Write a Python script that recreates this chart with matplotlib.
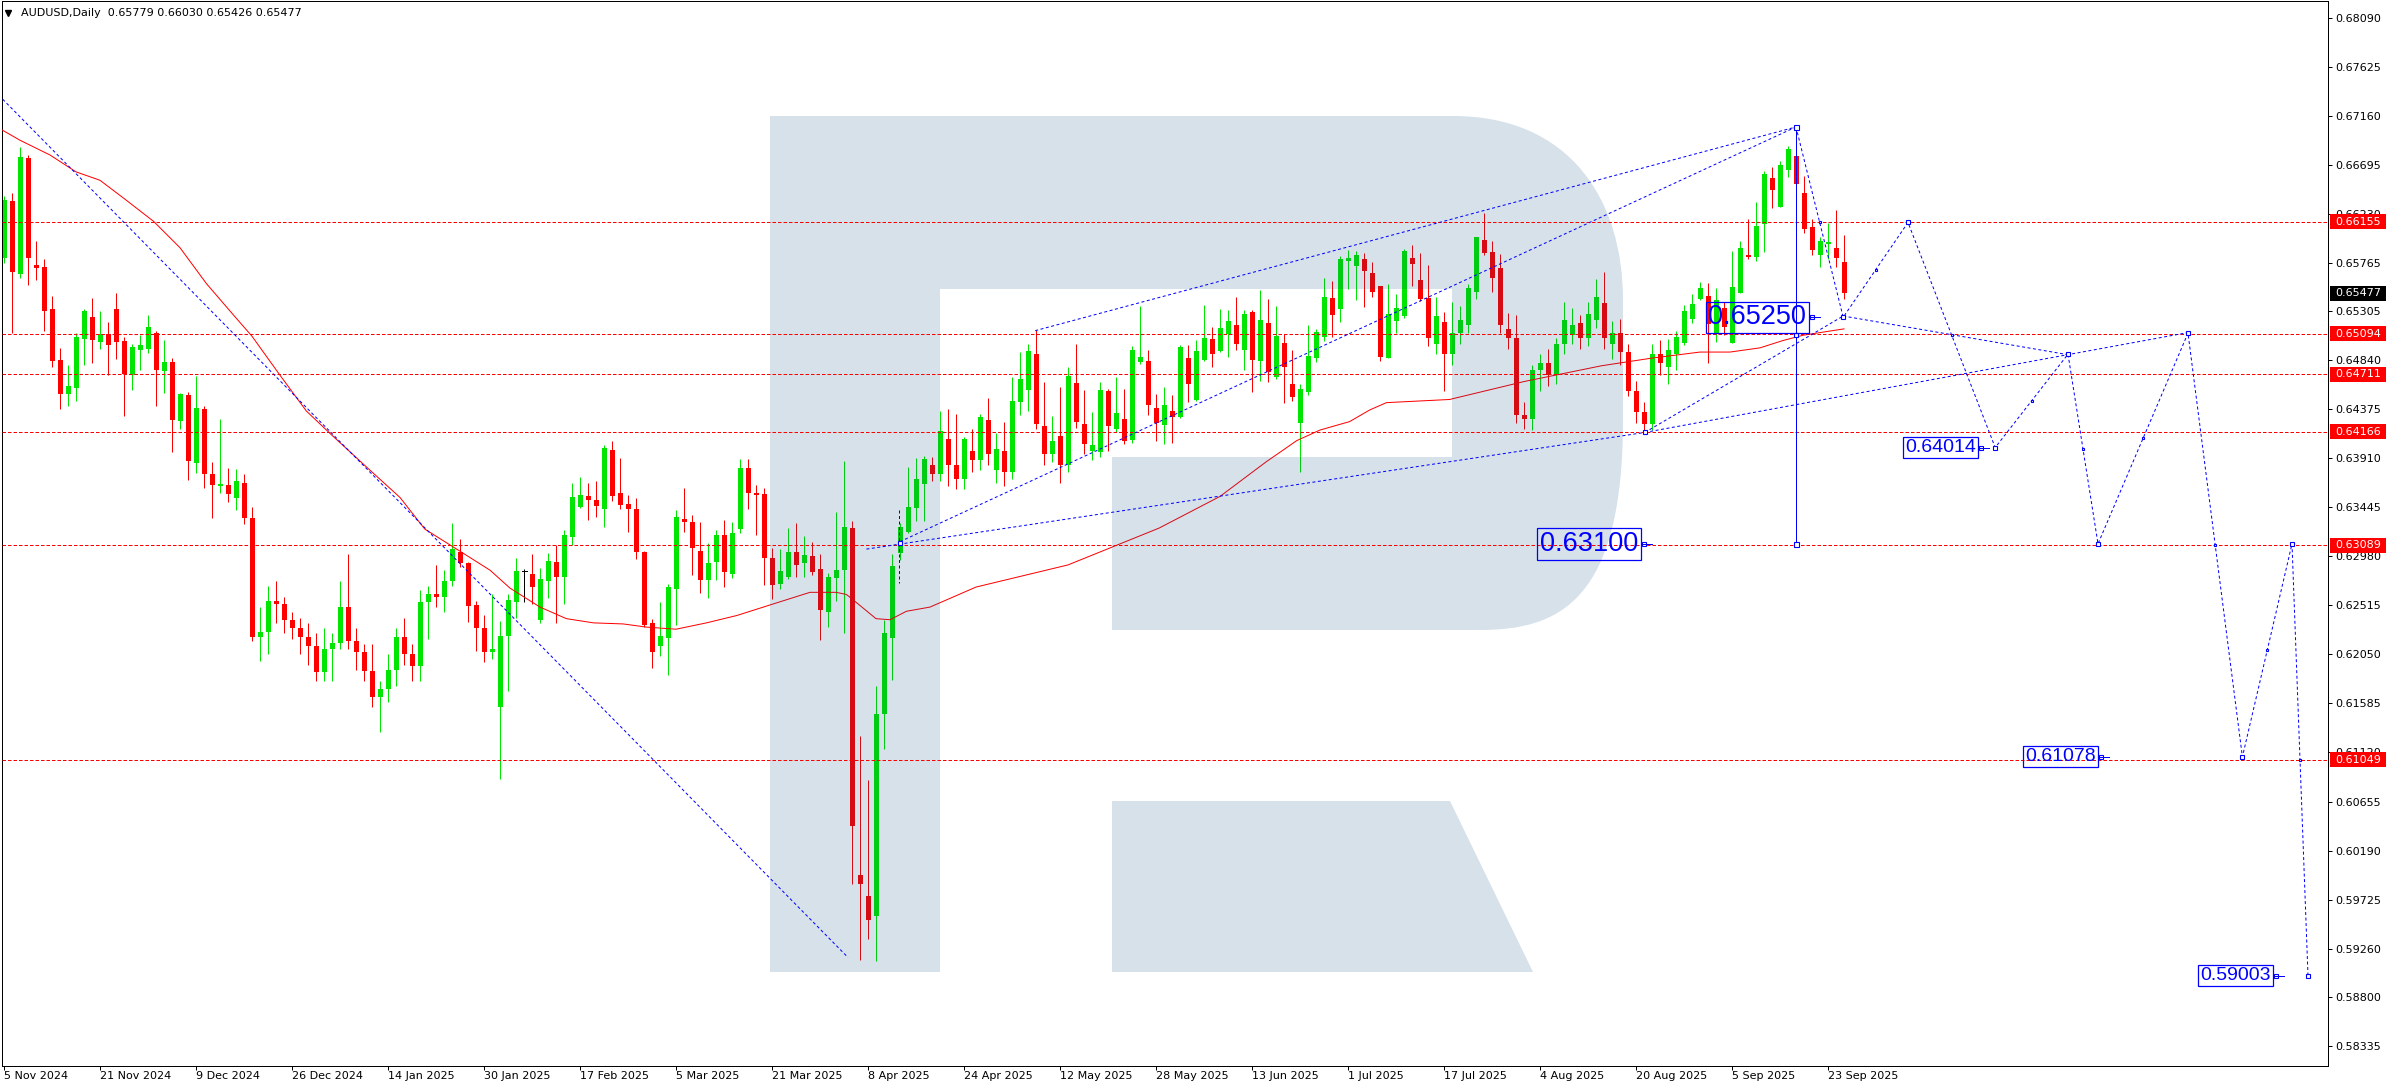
import numpy as np
import pandas as pd
import matplotlib
matplotlib.use("Agg")
import matplotlib.pyplot as plt
from matplotlib.patches import Rectangle, PathPatch
from matplotlib.path import Path
from matplotlib.lines import Line2D
import matplotlib.transforms as mtransforms

plt.rcParams['lines.scale_dashes'] = False
plt.rcParams['font.family'] = ['DejaVu Sans']

# ---------------- data ----------------
header_text = "AUDUSD,Daily  0.65779 0.66030 0.65426 0.65477"
holidays = ['2024-12-25', '2025-01-01']
dates = pd.bdate_range('2024-11-05', '2025-09-25', freq='C', holidays=holidays)

opens = [
    .65810, .66354, .65664, .66759, .65747, .65728, .65329, .64845, .64526, .64583,
    .65048, .65253, .65019, .65089, .65329, .65025, .64703, .64940, .64950, .65101,
    .64741, .64826, .64266, .64513, .63868, .64380, .63763, .63650, .63659, .63536,
    .63678, .63346, .62220, .62260, .62560, .62530, .62380, .62300, .62220, .62130,
    .61880, .62100, .62160, .62500, .62180, .62070, .61890, .61650, .61720, .61900,
    .62220, .62050, .61940, .62550, .62620, .62600, .62750, .63025, .62914, .62516,
    .62297, .62070, .61549, .62229, .62544, .62846, .62814, .62377, .62751, .62926,
    .62782, .63164, .63447, .63550, .63514, .63431, .63988, .63582, .63479, .63431,
    .63025, .62345, .62134, .62209, .62675, .63335, .63308, .63033, .62758, .62926,
    .63184, .62818, .63244, .63817, .63582, .63570, .62961, .62715, .62782, .63025,
    .62914, .62985, .62862, .62456, .62774, .62854, .63252, .59961, .59762, .59571,
    .61481, .62209, .63009, .63212, .63439, .63670, .63850, .63760, .64095, .63850,
    .63720, .63980, .63900, .64275, .63800, .63980, .63780, .64449, .64563, .64902,
    .64218, .63950, .64123, .63850, .64626, .64237, .63980, .63970, .64550, .64190,
    .64285, .64086, .64826, .64835, .64389, .64228, .64361, .64304, .64864, .64465,
    .64845, .65044, .64930, .65091, .65177, .64940, .65300, .64835, .65196, .64683,
    .65006, .64617, .64247, .64541, .64864, .65063, .65433, .65329, .65787, .65737,
    .65803, .65670, .65547, .64864, .65218, .65266, .65813, .65604, .65433, .65000,
    .65206, .64900, .65100, .65177, .65490, .65984, .65870, .65718, .65139, .65050,
    .64320, .64280, .64750, .64820, .64700, .65000, .65080, .65196, .65050, .65225,
    .65386, .65000, .65100, .64920, .64550, .64350, .64240, .64900, .64780, .64900,
    .65009, .65234, .65424, .65452, .65098, .65335, .65009, .65484, .65841, .65825,
    .66135, .66572, .66300, .66648, .66781, .66430, .66110, .65841, .65946, .65908,
    .65779]
highs = [
    .66401, .66427, .66863, .66787, .65974, .65804, .65452, .64959, .64798, .65098,
    .65329, .65433, .65310, .65206, .65481, .65067, .64997, .65082, .65269, .65120,
    .65035, .64864, .64535, .64542, .64697, .64409, .63877, .64285, .63820, .63811,
    .63763, .63450, .62500, .62700, .62750, .62600, .62450, .62400, .62350, .62250,
    .62300, .62250, .62750, .63000, .62300, .62150, .62150, .61800, .62050, .62300,
    .62400, .62150, .62660, .62700, .62900, .62850, .63300, .63150, .62930, .62556,
    .62428, .62623, .62369, .62623, .62961, .62866, .63001, .62874, .63009, .63085,
    .63232, .63678, .63737, .63678, .63694, .64036, .64076, .63912, .63562, .63534,
    .63030, .62385, .62544, .62715, .63419, .63630, .63375, .63308, .63105, .63232,
    .63323, .63308, .63904, .63904, .63658, .63630, .63065, .63053, .63252, .63300,
    .63172, .63113, .63005, .62826, .63403, .63885, .63320, .61274, .60856, .61752,
    .62377, .63005, .63300, .63829, .63912, .63932, .63920, .64361, .64380, .64332,
    .64114, .64190, .64332, .64484, .64152, .64256, .64683, .64921, .64996, .65129,
    .64636, .64313, .64588, .64778, .64996, .64560, .64351, .64636, .64570, .64683,
    .64570, .64977, .65357, .64940, .64522, .64588, .64513, .64987, .64987, .65034,
    .65367, .65158, .65329, .65319, .65442, .65319, .65319, .65509, .65423, .65357,
    .65091, .64940, .64617, .65177, .65139, .65623, .65594, .65831, .65888, .65879,
    .65860, .65775, .65550, .65566, .65471, .65898, .65936, .65861, .65747, .65443,
    .65301, .65395, .65358, .65566, .66015, .66240, .65974, .65851, .65291, .65272,
    .64450, .64800, .64900, .64950, .65050, .65395, .65339, .65272, .65395, .65614,
    .65680, .65215, .65234, .65000, .64650, .64450, .65000, .65035, .65041, .65120,
    .65367, .65471, .65588, .65579, .65525, .65398, .65879, .65974, .66183, .66341,
    .66641, .66673, .66733, .66875, .67056, .66588, .66183, .66015, .66148, .66268,
    .66030]
lows = [
    .65769, .65098, .65623, .65557, .65604, .65120, .64782, .64380, .64409, .64456,
    .64798, .64817, .64950, .64700, .64855, .64314, .64561, .64750, .64912, .64409,
    .64532, .63972, .64190, .63707, .63773, .63631, .63346, .63583, .63498, .63422,
    .63289, .62180, .61990, .62050, .62350, .62250, .62200, .62050, .61950, .61800,
    .61800, .61800, .62100, .62100, .61900, .61800, .61550, .61310, .61600, .61750,
    .61950, .61800, .61800, .62200, .62500, .62450, .62700, .62880, .62357, .62086,
    .61979, .62007, .60872, .61708, .62396, .62544, .62528, .62350, .62587, .62345,
    .62528, .63085, .63439, .63327, .63355, .63264, .63511, .63431, .63212, .62953,
    .62309, .61919, .62034, .61859, .62329, .63212, .62806, .62635, .62583, .62754,
    .62687, .62774, .63204, .63431, .63184, .62707, .62575, .62667, .62770, .62782,
    .62782, .62806, .62185, .62309, .62556, .62253, .59870, .59150, .59350, .59140,
    .61155, .61808, .62950, .63200, .63320, .63320, .63700, .63700, .63650, .63620,
    .63620, .63780, .63800, .63850, .63680, .63650, .63720, .64326, .64364, .64190,
    .63850, .63880, .63680, .63780, .64199, .63950, .63900, .63920, .63980, .64161,
    .64048, .64057, .64807, .64323, .64076, .64048, .64057, .64294, .64446, .64460,
    .64835, .64778, .64920, .64873, .64940, .64750, .64541, .64645, .64636, .64664,
    .64437, .64456, .63780, .64513, .64826, .65025, .65063, .65205, .65518, .65414,
    .65348, .65442, .64835, .64860, .65100, .65247, .65547, .65405, .64980, .64900,
    .64550, .64800, .65000, .65100, .65424, .65842, .65490, .65100, .64950, .64250,
    .64190, .64180, .64550, .64600, .64620, .64900, .65000, .64950, .64980, .65150,
    .64950, .64850, .64800, .64500, .64250, .64140, .64180, .64700, .64620, .64750,
    .64987, .65199, .65414, .64813, .65013, .65082, .65009, .65484, .65803, .65784,
    .65873, .66290, .66300, .66585, .66505, .66053, .65841, .65731, .65800, .65731,
    .65426]
closes = [
    .66363, .65683, .66768, .65816, .65721, .65313, .64839, .64526, .64599, .65063,
    .65310, .65038, .65089, .64988, .65016, .64715, .64969, .64988, .65158, .64750,
    .64826, .64276, .64526, .63887, .64390, .63763, .63659, .63669, .63574, .63697,
    .63346, .62220, .62260, .62560, .62530, .62380, .62300, .62220, .62130, .61880,
    .62100, .62160, .62500, .62180, .62070, .61890, .61650, .61720, .61900, .62220,
    .62050, .61940, .62550, .62620, .62600, .62750, .63050, .62914, .62508, .62297,
    .62078, .62098, .62229, .62567, .62846, .62846, .62695, .62767, .62938, .62782,
    .63184, .63542, .63562, .63518, .63455, .64008, .63558, .63471, .63431, .63025,
    .62329, .62078, .62221, .62695, .63355, .63312, .63065, .62758, .62922, .63184,
    .62830, .63204, .63817, .63582, .63562, .62969, .62707, .62846, .63025, .62902,
    .62993, .62834, .62468, .62786, .62854, .63260, .60427, .59870, .59532, .61489,
    .62257, .62890, .63256, .63451, .63713, .63904, .63760, .64171, .63850, .63720,
    .64095, .63900, .64304, .63950, .64000, .63780, .64456, .64664, .64930, .64237,
    .63950, .64076, .63850, .64693, .64256, .64048, .64038, .64560, .64218, .64342,
    .64076, .64940, .64873, .64418, .64247, .64418, .64304, .64968, .64617, .64930,
    .65053, .64902, .65148, .65215, .64996, .65281, .64845, .65224, .64731, .65072,
    .64778, .64494, .64570, .64883, .65110, .65442, .65272, .65803, .65813, .65841,
    .65689, .65490, .64873, .65281, .65335, .65879, .65759, .65424, .65050, .65263,
    .64900, .65100, .65225, .65528, .66012, .65861, .65623, .65177, .65050, .64320,
    .64280, .64750, .64820, .64700, .65000, .65225, .65177, .65050, .65282, .65443,
    .65050, .65100, .64920, .64550, .64350, .64240, .64902, .64813, .64940, .65060,
    .65310, .65376, .65525, .65186, .65414, .65161, .65536, .65904, .65825, .66116,
    .66610, .66458, .66695, .66844, .66512, .66088, .65889, .65974, .65968, .65813,
    .65477]

# moving average (read at bar positions)
ma_idx = [-0.3, 2, 5.75, 9, 12, 15.3, 18.7, 22, 25.3, 28.7, 31, 34.5, 37.8, 41, 45.3,
          49.5, 52.6, 57, 60.75, 63.25, 67, 70.3, 73.7, 77.4, 80.3, 84, 87.8, 91.6,
          95.75, 100.75, 104, 105.3, 106.6, 109, 110.75, 112.8, 115.75, 121.5, 133,
          144.4, 152, 157.8, 161.6, 164.5, 168.2, 170.7, 172.8, 180.7, 190, 199.7,
          205.75, 212, 215.75, 219.5, 222.4, 224.9, 230]
ma_val = [0.6703, 0.6693, 0.6679, 0.6663, 0.6655, 0.6636, 0.6616, 0.6591, 0.6557,
          0.6527, 0.6507, 0.6470, 0.6436, 0.6413, 0.6383, 0.6354, 0.6324, 0.6303,
          0.6285, 0.6268, 0.6250, 0.6239, 0.6235, 0.6234, 0.6231, 0.6229, 0.6235,
          0.6242, 0.6252, 0.6264, 0.6264, 0.6262, 0.6254, 0.6239, 0.6238, 0.6246,
          0.6250, 0.6269, 0.6290, 0.6325, 0.6355, 0.6388, 0.6408, 0.6418, 0.6426,
          0.6437, 0.6444, 0.6447, 0.6464, 0.6479, 0.6486, 0.6492, 0.6492, 0.6496,
          0.6503, 0.6508, 0.6514]

levels = [0.66155, 0.65094, 0.64711, 0.64166, 0.63089, 0.61049]
last_price = 0.65477

ytick_vals = [0.68090, 0.67625, 0.67160, 0.66695, 0.66230, 0.65765, 0.65305, 0.64840,
              0.64375, 0.63910, 0.63445, 0.62980, 0.62515, 0.62050, 0.61585, 0.61120,
              0.60655, 0.60190, 0.59725, 0.59260, 0.58800, 0.58335]
xtick_dates = ['2024-11-05', '2024-11-21', '2024-12-09', '2024-12-26', '2025-01-14',
               '2025-01-30', '2025-02-17', '2025-03-05', '2025-03-21', '2025-04-08',
               '2025-04-24', '2025-05-12', '2025-05-28', '2025-06-13', '2025-07-01',
               '2025-07-17', '2025-08-04', '2025-08-20', '2025-09-05', '2025-09-23']
xtick_labels = ['5 Nov 2024', '21 Nov 2024', '9 Dec 2024', '26 Dec 2024', '14 Jan 2025',
                '30 Jan 2025', '17 Feb 2025', '5 Mar 2025', '21 Mar 2025', '8 Apr 2025',
                '24 Apr 2025', '12 May 2025', '28 May 2025', '13 Jun 2025', '1 Jul 2025',
                '17 Jul 2025', '4 Aug 2025', '20 Aug 2025', '5 Sep 2025', '23 Sep 2025']

# analysis drawings: (bar index, price)
trend_down = [(-0.16, 0.67319), (105.5, 0.59175)]
line_a = [(112.0, 0.63121), (224.0, 0.67056)]
line_b = [(128.9, 0.65123), (224.0, 0.67056)]
line_c = [(107.8, 0.63050), (205.1, 0.64157)]
line_d = [(205.1, 0.64157), (229.9, 0.65262)]
line_e = [(205.1, 0.64157), (273.0, 0.65105)]
line_f = [(229.9, 0.65262), (258.0, 0.64895)]
vline_target = (224.0, 0.63100, 0.67056)
forecast_x = [224.0, 229.9, 238.0, 248.9, 258.0, 261.75, 273.0, 279.8, 286.0, 288.0]
forecast_y = [0.67056, 0.65250, 0.66150, 0.64014, 0.64900, 0.63100, 0.65100, 0.61078,
              0.63100, 0.59003]
price_labels = [("0.65250", 225.6, 0.65250, 19.5), ("0.63100", 204.6, 0.63100, 19.5),
                ("0.64014", 246.75, 0.64014, 14), ("0.61078", 261.75, 0.61078, 14),
                ("0.59003", 283.6, 0.59003, 14)]

n = len(opens)
assert len(highs) == n and len(lows) == n and len(closes) == n and len(dates) == n

# ---------------- figure ----------------
W, H = 2392, 1090
AX_L, AX_R, AX_T, AX_B = 2, 2328, 1, 1066
PX_PER_BAR = 8.0
PX_PER_UNIT = 10538.0
fig = plt.figure(figsize=(W / 100, H / 100), dpi=100)
fig.patch.set_facecolor('white')
ax = fig.add_axes([AX_L / W, 1 - AX_B / H, (AX_R - AX_L) / W, (AX_B - AX_T) / H])
ax.set_facecolor('white')
ax.set_xlim(-0.25, 290.5)
ax.set_ylim(0.68090 - (AX_B - 18) / PX_PER_UNIT, 0.68090 + (18 - AX_T) / PX_PER_UNIT)

BULL = '#00E600'
BEAR = '#FF0000'
BLUE = '#0000FF'
DOT = (2.16, 1.8)
PX = 0.72  # one pixel in points

# candles
body_w = 5 / PX_PER_BAR
for i in range(n):
    o, h, l, c = opens[i], highs[i], lows[i], closes[i]
    col = BULL if c > o else (BEAR if c < o else 'black')
    ax.plot([i, i], [l, h], color=col, lw=PX, zorder=2, solid_capstyle='butt')
    if c != o:
        lo = min(o, c)
        hgt = max(abs(c - o), 1.0 / PX_PER_UNIT)
        ax.add_patch(Rectangle((i - body_w / 2, lo), body_w, hgt, fc=col, ec='none',
                               zorder=2.1))
    else:
        ax.plot([i - body_w / 2, i + body_w / 2], [c, c], color=col, lw=PX, zorder=2.1)

# moving average
ax.plot(ma_idx, ma_val, color='#FF0000', lw=PX, zorder=3)

# R logo overlay (axes fraction)
def fa(x, y):
    return ((x - AX_L) / (AX_R - AX_L), (AX_B - y) / (AX_B - AX_T))

verts, codes = [], []
def mv(p):
    verts.append(fa(*p)); codes.append(Path.MOVETO)
def ln(p):
    verts.append(fa(*p)); codes.append(Path.LINETO)
def cv(p1, p2, p3):
    for p in (p1, p2, p3):
        verts.append(fa(*p)); codes.append(Path.CURVE4)
def cl():
    verts.append((0, 0)); codes.append(Path.CLOSEPOLY)

mv((770, 116)); ln((1453, 116)); cv((1570, 116), (1623, 200), (1623, 300))
ln((1623, 420)); cv((1623, 600), (1560, 630), (1480, 630)); ln((1112, 630))
ln((1112, 457)); ln((1452, 457)); ln((1452, 289)); ln((940, 289)); ln((940, 972))
ln((770, 972)); cl()
mv((1112, 801)); ln((1450, 801)); ln((1533, 972)); ln((1112, 972)); cl()
ax.add_patch(PathPatch(Path(verts, codes), fc='#004682', ec='none', alpha=0.16,
                       transform=ax.transAxes, zorder=4))

# red horizontal levels
for lv in levels:
    ax.axhline(lv, color='#FF0000', lw=PX, dashes=(2.52, 1.44), zorder=5)

# blue drawings
def bline(pts, dashed=True, z=6):
    xs = [p[0] for p in pts]; ys = [p[1] for p in pts]
    l, = ax.plot(xs, ys, color=BLUE, lw=PX, zorder=z, solid_capstyle='butt')
    if dashed:
        l.set_dashes(DOT)

def bmark(x, y, ms=3.0):
    ax.plot([x], [y], marker='s', ms=ms, mfc='white', mec=BLUE, mew=0.8, ls='none',
            zorder=7)

for ln_pts in (trend_down, line_a, line_b, line_c, line_d, line_e, line_f):
    bline(ln_pts)
# selection bracket near the April anchor
bline([(111.9, 0.6342), (111.9, 0.6273)])

vx, vlo, vhi = vline_target
ax.plot([vx, vx], [vlo, vhi], color=BLUE, lw=PX, zorder=6.5)
bmark(vx, vhi, 3.6)
bmark(vx, vlo, 3.6)
bmark(vx, 0.6508, 2.6)
bmark(line_c[0][0] + 4.2, line_c[0][1] + 0.0006, 2.6)
bmark(line_d[0][0], line_d[0][1], 2.4)

bline(list(zip(forecast_x, forecast_y)))
for k in range(1, len(forecast_x)):
    bmark(forecast_x[k], forecast_y[k], 2.2)
    mx = (forecast_x[k - 1] + forecast_x[k]) / 2
    my = (forecast_y[k - 1] + forecast_y[k]) / 2
    bmark(mx, my, 2.0)

# price labels with boxes
for txt, xr, pr, fs in price_labels:
    pad_px = 0.1 * fs / PX
    ax.text(xr - pad_px / PX_PER_BAR, pr, txt, ha='right', va='center', fontsize=fs,
            color=BLUE, family=['Liberation Sans', 'DejaVu Sans'], zorder=8,
            bbox=dict(boxstyle='square,pad=0.1', fc='none', ec=BLUE, lw=0.9))
    ax.plot([xr, xr + 11 / PX_PER_BAR], [pr, pr], color=BLUE, lw=PX, zorder=8)
    bmark(xr + 3 / PX_PER_BAR, pr, 2.4)

# axes styling
for sp in ax.spines.values():
    sp.set_color('black'); sp.set_linewidth(PX)
ax.yaxis.set_ticks_position('right')
ax.set_yticks(ytick_vals)
ax.set_yticklabels([f"{v:.5f}" for v in ytick_vals])
ax.tick_params(axis='y', which='both', direction='out', length=4 * PX, width=PX,
               pad=3 * PX, labelsize=8, colors='black', left=False, right=True)
xpos = [dates.get_loc(pd.Timestamp(d)) for d in xtick_dates]
ax.set_xticks(xpos)
ax.set_xticklabels(xtick_labels)
for lab in ax.get_xticklabels():
    lab.set_horizontalalignment('left')
ax.tick_params(axis='x', direction='out', length=4 * PX, width=PX, pad=1.0,
               labelsize=8, colors='black')

# right-side level boxes
trans = mtransforms.blended_transform_factory(ax.transAxes, ax.transData)
bx0 = (2330 - AX_L) / (AX_R - AX_L)
bw = 56 / (AX_R - AX_L)
tx0 = (2335 - AX_L) / (AX_R - AX_L)
bh = 15 / PX_PER_UNIT
for lv in levels + [last_price]:
    fc = 'black' if lv == last_price else '#FF0000'
    ax.add_patch(Rectangle((bx0, lv - bh / 2), bw, bh, fc=fc, ec='none',
                           transform=trans, clip_on=False, zorder=10))
    ax.text(tx0, lv, f"{lv:.5f}", transform=trans, color='white', fontsize=8,
            va='center', ha='left', clip_on=False, zorder=11)

# header
fig.text(21 / W, 1 - 13.5 / H, header_text, fontsize=8, va='center', ha='left',
         color='black')
fig.add_artist(Line2D([8 / W], [1 - 12.5 / H], marker='v', ms=4.2, color='black',
                      ls='none', transform=fig.transFigure))

fig.savefig('out.png', dpi=100, facecolor='white')
